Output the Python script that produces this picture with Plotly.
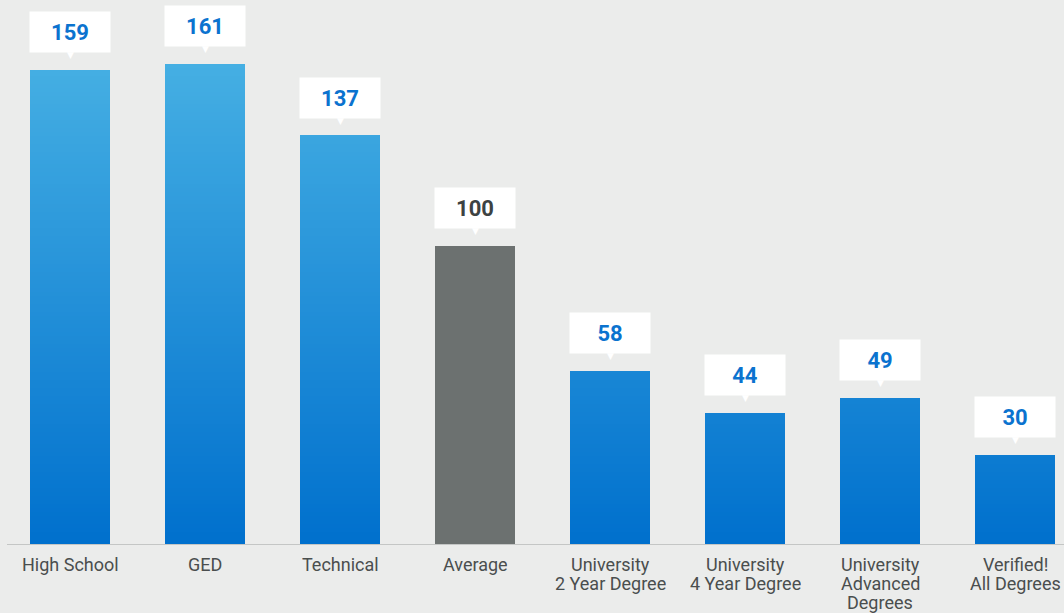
import plotly.graph_objects as go

categories = ["High School", "GED", "Technical", "Average",
              "University<br>2 Year Degree", "University<br>4 Year Degree",
              "University<br>Advanced<br>Degrees", "Verified!<br>All Degrees"]
values = [159, 161, 137, 100, 58, 44, 49, 30]
highlight = "Average"

BG = "#EBECEB"
BLUE_BOTTOM = (0, 112, 205)
BLUE_TOP = (69, 175, 227)
TOP_VALUE = 161
GRAY = "#6C7170"
LABEL_BLUE = "#0B73CF"
LABEL_GRAY = "#3D4242"
TICK_COLOR = "#4A4E4E"
YMAX = 182.55

x_idx = list(range(len(categories)))

def grad(v):
    t = max(0.0, min(1.0, v / TOP_VALUE))
    c = [round(a + (b - a) * t) for a, b in zip(BLUE_BOTTOM, BLUE_TOP)]
    return "rgb({},{},{})".format(*c)

fig = go.Figure()

# gradient bars drawn as stacked horizontal bands of the same bars
n_bands = 120
band = max(values) / n_bands
for i in range(n_bands):
    lo = i * band
    heights = [max(0.0, min(band, v - lo)) for v in values]
    colors = [GRAY if c == highlight else grad(lo + band / 2) for c in categories]
    fig.add_trace(go.Bar(
        x=x_idx, y=heights, base=[lo] * len(values), width=0.5926,
        marker=dict(color=colors, line=dict(width=0)),
        hoverinfo="skip", showlegend=False))

for i, (c, v) in enumerate(zip(categories, values)):
    col = LABEL_GRAY if c == highlight else LABEL_BLUE
    fig.add_annotation(x=i, y=v, yanchor="bottom", yshift=17,
                       text="<b>{}</b>".format(v), showarrow=False,
                       bgcolor="white", width=80, height=40, borderpad=0,
                       font=dict(family="Roboto", size=22, color=col))
    fig.add_annotation(x=i, y=v, yanchor="bottom", yshift=8,
                       text="▼", showarrow=False,
                       font=dict(family="DejaVu Sans", size=9, color="white"))
    # category label, one line per annotation for tight line spacing
    for k, line in enumerate(c.split("<br>")):
        fig.add_annotation(x=i, y=0, yanchor="middle", yshift=-21.5 - 19 * k,
                           text=line, showarrow=False, height=18, borderpad=0,
                           valign="bottom",
                           font=dict(family="Roboto", size=18, color=TICK_COLOR))

fig.update_layout(
    width=1064, height=613,
    margin=dict(l=7, r=0, t=0, b=69),
    paper_bgcolor=BG, plot_bgcolor=BG,
    barmode="overlay", bargap=0,
    xaxis=dict(tickmode="array", tickvals=x_idx, ticktext=categories,
               showticklabels=False,
               range=[-0.4667, 7.363], showgrid=False, zeroline=False,
               showline=True, linecolor="#C4C6C5", linewidth=1, ticks=""),
    yaxis=dict(range=[0, YMAX], visible=False, showgrid=False, zeroline=False),
)

fig.write_html("out.html", config={"displayModeBar": False},
               post_script="document.body.style.margin='0';"
                           "document.body.style.background='" + BG + "';")
